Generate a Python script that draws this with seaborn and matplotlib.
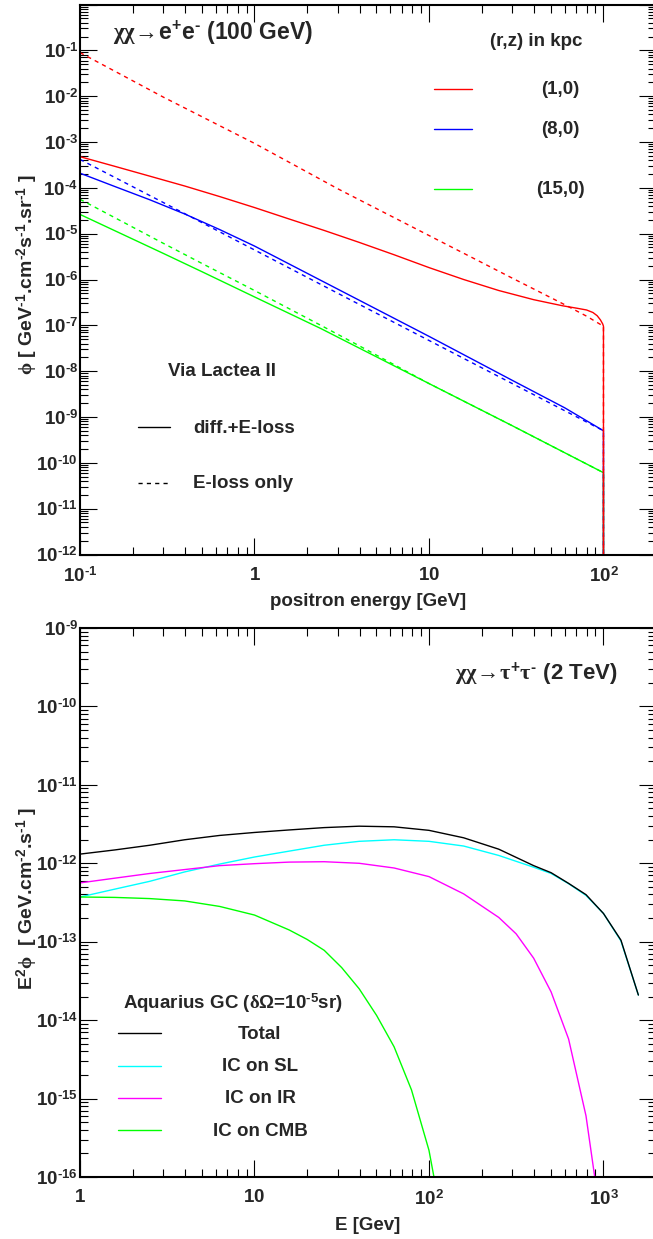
import numpy as np
import matplotlib
matplotlib.use("Agg")
import matplotlib.pyplot as plt
from matplotlib.lines import Line2D
from matplotlib.ticker import FixedLocator, FuncFormatter, LogLocator, NullFormatter
import seaborn as sns

# ---------------- top panel: chi chi -> e+e- (100 GeV), log10(phi)
E_red_solid = [0.1, 0.158, 0.251, 0.398, 0.631, 1, 1.58, 2.51, 3.98, 6.31, 10, 15.8, 25.1, 39.8,
               50, 58.6, 70, 80, 87, 92, 96, 99, 100, 100]
lg_red_solid = [-3.32, -3.53, -3.745, -3.96, -4.19, -4.43, -4.68, -4.93, -5.19, -5.46, -5.74, -6.00,
                -6.24, -6.44, -6.52, -6.575, -6.625, -6.665, -6.72, -6.79, -6.88, -6.97, -7.02, -12]
E_red_dash = [0.1, 0.3, 1, 3, 10, 30, 60, 80, 100, 100]
lg_red_dash = [-1.05, -2.02, -3.03, -4.02, -5.04, -5.97, -6.55, -6.80, -7.02, -12]
E_blue_solid = [0.1, 0.158, 0.251, 0.398, 0.631, 1, 3, 10, 30, 60, 100, 100]
lg_blue_solid = [-3.68, -3.97, -4.26, -4.57, -4.91, -5.27, -6.21, -7.24, -8.20, -8.80, -9.30, -12]
E_blue_dash = [0.1, 0.3, 1, 3, 10, 30, 100, 100]
lg_blue_dash = [-3.38, -4.32, -5.355, -6.30, -7.33, -8.27, -9.30, -12]
E_green_solid = [0.1, 0.3, 0.5, 1, 2.4, 4, 10, 30, 100, 100]
lg_green_solid = [-4.58, -5.43, -5.83, -6.38, -7.07, -7.50, -8.27, -9.19, -10.215, -12]
E_green_dash = [0.1, 0.3, 0.5, 1, 2.4, 4, 10, 30, 100, 100]
lg_green_dash = [-4.25, -5.21, -5.65, -6.24, -7.00, -7.45, -8.27, -9.19, -10.215, -12]

# ---------------- bottom panel: chi chi -> tau+tau- (2 TeV), log10(E^2 phi)
E_total = [1, 1.58, 2.51, 3.98, 6.31, 10, 15.8, 25.1, 39.8, 63.1, 100, 158, 251, 398, 501, 631,
           794, 1000, 1259, 1585]
lg_total = [-11.883, -11.83, -11.77, -11.70, -11.645, -11.607, -11.575, -11.545, -11.527, -11.535,
            -11.58, -11.675, -11.82, -12.03, -12.12, -12.256, -12.40, -12.64, -12.98, -13.68]
E_sl = [1, 1.58, 2.51, 3.98, 6.31, 10, 15.8, 25.1, 39.8, 63.1, 100, 158, 251, 398, 501, 631, 794,
        1000, 1259, 1585]
lg_sl = [-12.43, -12.33, -12.23, -12.11, -12.01, -11.92, -11.845, -11.77, -11.72, -11.70, -11.72,
         -11.78, -11.90, -12.05, -12.13, -12.26, -12.41, -12.64, -12.99, -13.68]
E_ir = [1, 1.58, 2.51, 3.98, 6.31, 10, 15.8, 25.1, 39.8, 63.1, 100, 158, 251, 316, 398, 501, 631,
        794, 1000]
lg_ir = [-12.25, -12.19, -12.13, -12.08, -12.03, -12.005, -11.985, -11.98, -12.00, -12.06, -12.17,
         -12.39, -12.69, -12.90, -13.21, -13.64, -14.24, -15.22, -16.78]
E_cmb = [1, 1.58, 2.51, 3.98, 6.31, 10, 15.8, 20, 25.1, 31.6, 39.8, 50.1, 63.1, 79.4, 100, 126]
lg_cmb = [-12.43, -12.435, -12.45, -12.48, -12.55, -12.66, -12.85, -12.97, -13.11, -13.33, -13.60,
          -13.94, -14.34, -14.89, -15.66, -16.86]

sns.set_theme(style="ticks")
plt.rcParams['font.family'] = ['Liberation Sans', 'DejaVu Sans']
plt.rcParams['font.weight'] = 'bold'
plt.rcParams['mathtext.fontset'] = 'custom'
plt.rcParams['mathtext.rm'] = 'Liberation Sans:bold'
plt.rcParams['mathtext.bf'] = 'Liberation Sans:bold'
plt.rcParams['mathtext.sf'] = 'Liberation Sans:bold'
plt.rcParams['mathtext.it'] = 'Liberation Serif'
plt.rcParams['mathtext.default'] = 'it'

W, H = 653, 1239
fig = plt.figure(figsize=(W / 100, H / 100), dpi=100)
fig.patch.set_facecolor('white')


def box(left, top, right, bottom):
    return [left / W, 1 - bottom / H, (right - left) / W, (bottom - top) / H]


ax1 = fig.add_axes(box(80, 4.5, 656, 554.5))
ax2 = fig.add_axes(box(80, 628, 656, 1177))

DASH = (0, (3, 3))


def draw(ax, x, lg, color, ls='-'):
    sns.lineplot(x=x, y=10 ** np.asarray(lg, dtype=float), ax=ax, color=color, lw=1.0,
                 linestyle=ls, estimator=None, sort=False)


for ax in (ax1, ax2):
    ax.set_xscale('log')
    ax.set_yscale('log')
    ax.set_facecolor('white')

draw(ax1, E_green_dash, lg_green_dash, '#00ff00', DASH)
draw(ax1, E_green_solid, lg_green_solid, '#00ff00')
draw(ax1, E_blue_dash, lg_blue_dash, '#0000ff', DASH)
draw(ax1, E_blue_solid, lg_blue_solid, '#0000ff')
draw(ax1, E_red_dash, lg_red_dash, '#ff0000', DASH)
draw(ax1, E_red_solid, lg_red_solid, '#ff0000')

draw(ax2, E_sl, lg_sl, '#00ffff')
draw(ax2, E_ir, lg_ir, '#ff00ff')
draw(ax2, E_cmb, lg_cmb, '#00ff00')
draw(ax2, E_total, lg_total, '#000000')

ax1.set_xlim(0.1, 200)
ax1.set_ylim(1e-12, 1)
ax2.set_xlim(1, 2000)
ax2.set_ylim(1e-16, 1e-9)


def sup(n):
    if n < 0:
        return r'^{\text{-}%d}' % (-n)
    return r'^{%d}' % n


def fmt_factory(hide_zero=False):
    def f(v, pos):
        if v <= 0:
            return ''
        e = int(round(np.log10(v)))
        if e == 0:
            return '' if hide_zero else r'$1$'
        if e == 1:
            return r'$10$'
        return r'$10%s$' % sup(e)
    return f


for ax, xmaj, hide in ((ax1, [0.1, 1, 10, 100], True), (ax2, [1, 10, 100, 1000], False)):
    ax.xaxis.set_major_locator(FixedLocator(xmaj))
    ax.xaxis.set_major_formatter(FuncFormatter(fmt_factory()))
    ax.xaxis.set_minor_locator(LogLocator(base=10, subs=np.arange(2, 10), numticks=100))
    ax.xaxis.set_minor_formatter(NullFormatter())
    ax.yaxis.set_major_locator(LogLocator(base=10, numticks=100))
    ax.yaxis.set_major_formatter(FuncFormatter(fmt_factory(hide_zero=hide)))
    ax.yaxis.set_minor_locator(LogLocator(base=10, subs=np.arange(2, 10), numticks=100))
    ax.yaxis.set_minor_formatter(NullFormatter())
    ax.tick_params(which='both', direction='in', top=True, right=True,
                   labeltop=False, labelright=False, color='black')
    ax.tick_params(which='major', length=12, width=0.8, labelsize=13.5)
    ax.tick_params(which='minor', length=6, width=0.8)
    ax.tick_params(axis='x', which='major', pad=9)
    ax.tick_params(axis='y', which='major', pad=1.5)
    for s in ax.spines.values():
        s.set_visible(True)
        s.set_linewidth(1.5)
        s.set_color('black')
    ax.set_xlabel('')
    ax.set_ylabel('')
    ax.grid(False)


def ftext(x, y, s, **kw):
    kw.setdefault('fontweight', 'bold')
    kw.setdefault('va', 'center')
    fig.text(x / W, 1 - y / H, s, **kw)


def key(x1, x2, y, color, ls='-'):
    fig.add_artist(Line2D([x1 / W, x2 / W], [1 - y / H, 1 - y / H], color=color, lw=1.0,
                          linestyle=ls))


# ---- top panel texts
ftext(113, 33, r'$\chi\chi\!\rightarrow\!\mathbf{e^{+}e^{\text{-}}}$ (100 GeV)', ha='left',
      fontsize=16.5)
ftext(536.5, 42, '(r,z) in kpc', ha='center', fontsize=13.5)
for yy, col, lab in ((89.3, '#ff0000', '(1,0)'), (129.3, '#0000ff', '(8,0)'), (189, '#00ff00', '(15,0)')):
    key(434, 472, yy, col)
    ftext(560, yy + 0.7, lab, ha='center', fontsize=13.5)
ftext(222.5, 371, 'Via Lactea II', ha='center', fontsize=13.5)
key(138, 170, 427, 'black')
ftext(193, 428, 'diff.+E-loss', ha='left', fontsize=13.5)
key(138, 170, 483, 'black', DASH)
ftext(193, 483, 'E-loss only', ha='left', fontsize=13.5)
ftext(368, 602, 'positron energy [GeV]', ha='center', fontsize=13.5)
ftext(27, 275, r'$\phi$ [ GeV$^{\text{-}1}$.cm$^{\text{-}2}$s$^{\text{-}1}$.sr$^{\text{-}1}$ ]',
      ha='center', rotation=90, fontsize=14)

# ---- bottom panel texts
ftext(618, 674, r'$\chi\chi\!\rightarrow\!\tau^{+}\tau^{\text{-}}$ (2 TeV)', ha='right', fontsize=16)
ftext(233, 1003, r'Aquarius GC ($\delta\Omega$=10$^{\text{-}5}$sr)', ha='center', fontsize=13.5)
for yy, col, lab in ((1033.3, '#000000', 'Total'), (1065.7, '#00ffff', 'IC on SL'),
                     (1097.7, '#ff00ff', 'IC on IR'), (1130, '#00ff00', 'IC on CMB')):
    key(118, 161, yy, col)
    ftext(260, yy + 1, lab, ha='center', fontsize=13.5)
ftext(367.5, 1225, 'E [Gev]', ha='center', fontsize=13.5)
ftext(27, 898, r'E$^{2}$$\phi$  [ GeV.cm$^{\text{-}2}$.s$^{\text{-}1}$ ]', ha='center', rotation=90,
      fontsize=14)

fig.savefig('out.png', dpi=100, facecolor='white')
